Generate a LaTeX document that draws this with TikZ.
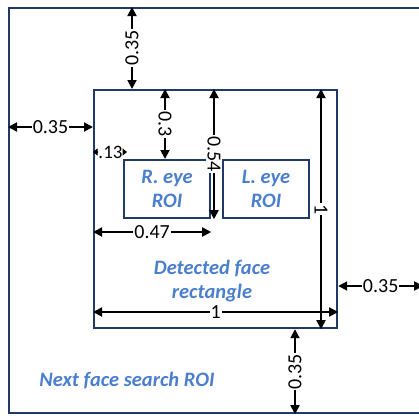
\documentclass[tikz,border=0pt]{standalone}
\usepackage{fontspec}
\setmainfont{Carlito}
\usetikzlibrary{arrows.meta}
\definecolor{frame}{HTML}{1F3A68}
\definecolor{roiblue}{HTML}{4A7ECE}

\begin{document}
\begin{tikzpicture}[
  x=1pt, y=-1pt,
  >={Triangle[length=9pt,width=9pt]},
  roi/.style={draw=frame, line width=2.2pt, inner sep=0pt, anchor=north west},
  lbl/.style={font=\fontsize{20.5}{24}\selectfont\bfseries\itshape,
    text=roiblue, align=center},
  dim/.style={<->, line width=1.8pt},
  tip/.style={-{Triangle[length=4.5pt,width=7pt]}, line width=1.5pt},
  num/.style={fill=white, inner sep=1pt, font=\fontsize{20}{20}\selectfont}
]
\useasboundingbox (0,0) rectangle (419,415);
% rectangles
\node[roi, minimum width=413pt, minimum height=405pt] (search) at (8,7) {};
\node[roi, minimum width=243pt, minimum height=238pt] (face) at (93,89) {};
\node[roi, minimum width=86pt, minimum height=58pt] (reye) at (123,159) {};
\node[roi, minimum width=86pt, minimum height=58pt] (leye) at (222,159) {};
\node[lbl] (reyetext) at (reye.center) {R. eye\\ROI};
\node[lbl] (leyetext) at (leye.center) {L. eye\\ROI};
\node[lbl] (facetext) at (212,281) {Detected face\\rectangle};
\node[lbl] (searchtext) at (127,380) {Next face search ROI};
% guide coordinates for the dimension lines
\coordinate (xtop) at (132,0);
\coordinate (xthree) at (165,0);
\coordinate (xfiftyfour) at (214,0);
\coordinate (xone) at (321,0);
\coordinate (xbot) at (295,0);
\coordinate (yleft) at (0,127);
\coordinate (yfortyseven) at (0,232);
\coordinate (yright) at (0,286);
\coordinate (yone) at (0,312);
% dimensions
\draw[dim] (search.north -| xtop) -- node[num, rotate=90] {0.35} (face.north -| xtop);
\draw[dim] (search.west |- yleft) -- node[num] {0.35} (face.west |- yleft);
\node[inner sep=0pt, font=\fontsize{19}{19}\selectfont] (thirteen) at (110.5,152) {.13};
\draw[tip] (thirteen.west) -- (face.west |- thirteen);
\draw[tip] (thirteen.east) -- ([xshift=4pt]reye.west |- thirteen);
\draw[dim] (face.north -| xthree) -- node[num, rotate=-90] {0.3} (reye.north -| xthree);
\draw[dim] (face.north -| xfiftyfour) -- node[num, rotate=-90] {0.54} (reye.south -| xfiftyfour);
\draw[dim] (face.west |- yfortyseven) -- node[num] {0.47} (reye.east |- yfortyseven);
\draw[dim] (face.north -| xone) -- node[num, rotate=-90] {1} (face.south -| xone);
\draw[dim] (face.west |- yone) -- node[num] {1} (face.east |- yone);
\draw[dim] (face.east |- yright) -- node[num] {0.35} (search.east |- yright);
\draw[dim] (face.south -| xbot) -- node[num, rotate=90] {0.35} (search.south -| xbot);
\end{tikzpicture}
\end{document}
